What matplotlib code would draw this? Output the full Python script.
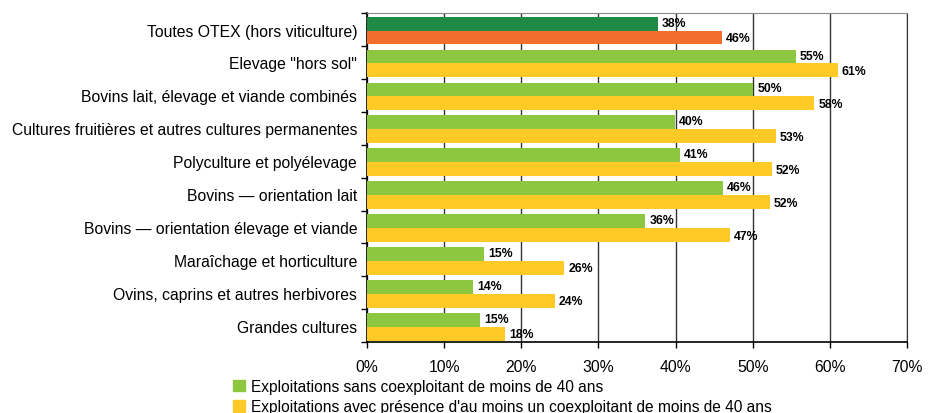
import numpy as np
import matplotlib.pyplot as plt
from matplotlib.patches import Patch

plt.rcParams['font.family'] = ['Liberation Sans', 'DejaVu Sans']

categories = [
    "Toutes OTEX (hors viticulture)",
    "Elevage \"hors sol\"",
    "Bovins lait, élevage et viande combinés",
    "Cultures fruitières et autres cultures permanentes",
    "Polyculture et polyélevage",
    "Bovins \u2014 orientation lait",
    "Bovins \u2014 orientation élevage et viande",
    "Maraîchage et horticulture",
    "Ovins, caprins et autres herbivores",
    "Grandes cultures",
]

sans_jeune = np.array([37.7, 55.6, 50.1, 39.9, 40.6, 46.1, 36.1, 15.2, 13.8, 14.7])
avec_jeune = np.array([46.0, 61.0, 58.0, 53.0, 52.5, 52.2, 47.0, 25.6, 24.4, 17.9])
labels_sans = ["38%", "55%", "50%", "40%", "41%", "46%", "36%", "15%", "14%", "15%"]
labels_avec = ["46%", "61%", "58%", "53%", "52%", "52%", "47%", "26%", "24%", "18%"]

legend_labels = [
    "Exploitations sans coexploitant de moins de 40 ans",
    "Exploitations avec présence d'au moins un coexploitant de moins de 40 ans",
]

green = "#8DC63F"
yellow = "#FFC926"
dark_green = "#1F8A44"
orange = "#F26E2E"

fig = plt.figure(figsize=(9.36, 4.14), dpi=100)
ax = fig.add_axes([0.392, 0.171, 0.577, 0.795])

n = len(categories)
y = np.arange(n)
h = 0.42
off = 0.03

colors_sans = [dark_green] + [green] * (n - 1)
colors_avec = [orange] + [yellow] * (n - 1)

ax.barh(y - h / 2 + off, sans_jeune, height=h, color=colors_sans, zorder=3)
ax.barh(y + h / 2 + off, avec_jeune, height=h, color=colors_avec, zorder=3)

for i in range(n):
    ax.text(sans_jeune[i] + 0.5, y[i] - h / 2 + off - 0.03, labels_sans[i],
            va="center", ha="left", fontsize=8.8, fontweight="bold", zorder=4)
    ax.text(avec_jeune[i] + 0.5, y[i] + h / 2 + off + 0.02, labels_avec[i],
            va="center", ha="left", fontsize=8.8, fontweight="bold", zorder=4)

ax.set_xlim(0, 70)
ax.set_ylim(n - 0.5, -0.5)
ax.set_xticks(np.arange(0, 71, 10))
ax.set_xticklabels([f"{v}%" for v in range(0, 71, 10)], fontsize=11.3)
ax.tick_params(axis="x", length=4, width=1, pad=8, colors="black")

ax.set_yticks(np.arange(-0.5, n, 1), minor=False)
ax.set_yticklabels([])
ax.set_yticks(y, minor=True)
ax.set_yticklabels(categories, minor=True, fontsize=11.3)
ax.tick_params(axis="y", which="minor", length=0, pad=7)
ax.tick_params(axis="y", which="major", length=4, width=1)

ax.xaxis.grid(True, color="#333333", linewidth=1, zorder=0)
for s in ["left", "bottom"]:
    ax.spines[s].set_color("black")
    ax.spines[s].set_linewidth(1.2)
ax.spines["top"].set_color("#888888")
ax.spines["right"].set_color("#333333")

handles = [Patch(color=green), Patch(color=yellow)]
fig.legend(handles, legend_labels, loc="upper left", bbox_to_anchor=(0.249, 0.082),
           frameon=False, fontsize=11.2, handlelength=0.75, handleheight=0.75,
           handletextpad=0.4, labelspacing=0.35, borderpad=0, borderaxespad=0)

fig.savefig("out.png", dpi=100)
